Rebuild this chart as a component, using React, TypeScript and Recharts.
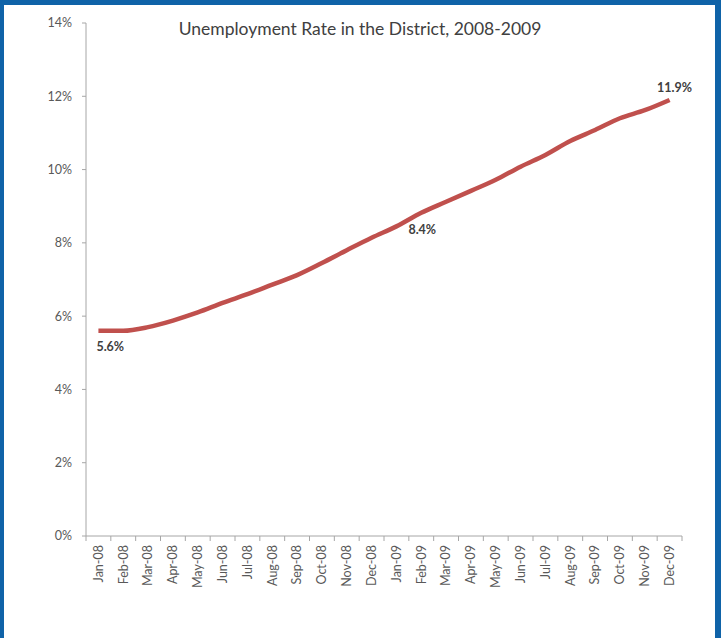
import { LineChart, Line, XAxis, YAxis, LabelList } from 'recharts';

const months = [
  'Jan-08', 'Feb-08', 'Mar-08', 'Apr-08', 'May-08', 'Jun-08',
  'Jul-08', 'Aug-08', 'Sep-08', 'Oct-08', 'Nov-08', 'Dec-08',
  'Jan-09', 'Feb-09', 'Mar-09', 'Apr-09', 'May-09', 'Jun-09',
  'Jul-09', 'Aug-09', 'Sep-09', 'Oct-09', 'Nov-09', 'Dec-09',
];

const rates = [
  5.6, 5.6, 5.7, 5.88, 6.1, 6.36, 6.6, 6.86, 7.12, 7.45, 7.8, 8.14,
  8.45, 8.82, 9.12, 9.42, 9.72, 10.08, 10.4, 10.78, 11.08, 11.4, 11.62, 11.9,
];

const yTicks = [0, 2, 4, 6, 8, 10, 12, 14];

// only these points get a label
const labelled: Record<number, string> = { 0: '5.6%', 12: '8.4%', 23: '11.9%' };

const data = months.map((month, i) => ({ month, rate: rates[i] }));

const W = 721;
const H = 638;
const PLOT_LEFT = 86;
const PLOT_RIGHT = 682;
const HALF_BAND = (PLOT_RIGHT - PLOT_LEFT) / months.length / 2;

const FONT = 'Lato, "Noto Sans", sans-serif';
const AXIS = '#a6a6a6';
const TEXT = '#595959';

function MonthTick(props: any) {
  const { x, y, payload, index } = props;
  const top = y - 8;
  return (
    <g>
      <line x1={x - HALF_BAND} y1={top} x2={x - HALF_BAND} y2={top + 5} stroke={AXIS} />
      {index === months.length - 1 && (
        <line x1={x + HALF_BAND} y1={top} x2={x + HALF_BAND} y2={top + 5} stroke={AXIS} />
      )}
      <text
        x={x}
        y={top + 9}
        transform={`rotate(-90, ${x}, ${top + 9})`}
        textAnchor="end"
        dy="0.35em"
        fontSize={12.5}
        fontFamily={FONT}
        fill={TEXT}
      >
        {payload.value}
      </text>
    </g>
  );
}

function PointLabel(props: any) {
  const { x, y, index } = props;
  const text = labelled[index];
  if (!text) return null;
  let tx = x - 2;
  let ty = y + 20;
  let anchor: 'start' | 'middle' = 'start';
  if (index === 12) {
    tx = x + 12;
    ty = y + 8;
  } else if (index === 23) {
    tx = x + 5;
    ty = y - 8;
    anchor = 'middle';
  }
  return (
    <text x={tx} y={ty} textAnchor={anchor} fontSize={12.5} fontWeight="bold" fontFamily={FONT} fill="#404040">
      {text}
    </text>
  );
}

export default function App() {
  return (
    <div
      style={{
        position: 'absolute',
        left: 0,
        top: 0,
        width: W,
        height: H,
        boxSizing: 'border-box',
        background: '#fff',
        borderTop: '5px solid #0f63a8',
        borderLeft: '4px solid #0f63a8',
        borderRight: '6px solid #0f63a8',
        overflow: 'hidden',
      }}
    >
      <div style={{ position: 'absolute', left: -4, top: -5 }}>
        <LineChart width={W} height={H} data={data} margin={{ top: 23, right: W - PLOT_RIGHT, bottom: 42, left: PLOT_LEFT - 60 }}>
          <text x={360} y={35} textAnchor="middle" fontSize={17.5} fontFamily={FONT} fill="#404040">
            Unemployment Rate in the District, 2008-2009
          </text>
          <XAxis
            dataKey="month"
            interval={0}
            height={60}
            padding={{ left: HALF_BAND, right: HALF_BAND }}
            axisLine={{ stroke: AXIS }}
            tickLine={false}
            tick={<MonthTick />}
          />
          <YAxis
            width={60}
            domain={[0, 14]}
            ticks={yTicks}
            interval={0}
            tickFormatter={(v) => `${v}%`}
            axisLine={{ stroke: AXIS }}
            tickLine={{ stroke: AXIS }}
            tickSize={4}
            tickMargin={10}
            tick={{ fontSize: 12.5, fontFamily: FONT, fill: TEXT }}
          />
          <Line
            type="monotone"
            dataKey="rate"
            stroke="#c0504d"
            strokeWidth={4.5}
            dot={false}
            isAnimationActive={false}
          >
            <LabelList dataKey="rate" content={<PointLabel />} />
          </Line>
        </LineChart>
      </div>
    </div>
  );
}
